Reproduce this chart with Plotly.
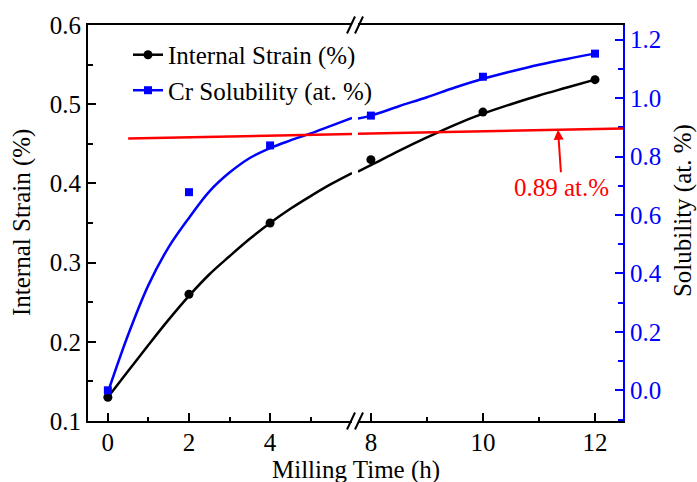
import plotly.graph_objects as go

# ---- data ----
time_left = [0, 2, 4]
time_right = [8, 10, 12]
strain_left = [0.13, 0.26, 0.35]
strain_right = [0.43, 0.49, 0.531]
sol_left = [0.0, 0.678, 0.838]
sol_right = [0.94, 1.073, 1.152]

# fitted curves
fit_t_left = [0, 0.5, 1, 1.5, 2, 2.5, 3, 3.5, 4, 4.5, 5, 5.5, 6.02]
strain_fit_left = [0.13, 0.163, 0.196, 0.228, 0.258, 0.285, 0.308, 0.33, 0.35, 0.368, 0.384, 0.399, 0.413]
sol_fit_left = [-0.007, 0.19, 0.36, 0.49, 0.59, 0.68, 0.745, 0.795, 0.829, 0.855, 0.879, 0.905, 0.932]
fit_t_right = [7.77, 8, 8.5, 9, 9.5, 10, 10.5, 11, 11.5, 12]
strain_fit_right = [0.415, 0.423, 0.441, 0.458, 0.474, 0.488, 0.5, 0.511, 0.521, 0.531]
sol_fit_right = [0.93, 0.94, 0.972, 1.003, 1.036, 1.066, 1.091, 1.114, 1.134, 1.152]

# solubility limit line
limit_t_left = [0.5, 6.02]
limit_left = [0.862, 0.877]
limit_t_right = [7.77, 12.5]
limit_right = [0.878, 0.896]
limit_label = "0.89 at.%"

x_ticks_left = [0, 2, 4]
x_minor_left = [1, 3, 5]
x_ticks_right = [8, 10, 12]
x_minor_right = [9, 11]
y_ticks = [0.1, 0.2, 0.3, 0.4, 0.5, 0.6]
y2_ticks = [0.0, 0.2, 0.4, 0.6, 0.8, 1.0, 1.2]

FONT = "Liberation Serif"
BLUE = "#0000ff"
RED = "#ff0000"

# layout geometry (pixels)
W, H = 697, 482
L, R, T, B = 88, 623, 23, 421
PW, PH = R - L, B - T
def px(x):
    return (x - L) / PW
def py(y):
    return (B - y) / PH

d1 = px(352)
d2 = px(358)

fig = go.Figure()

# fitted curves
fig.add_trace(go.Scatter(x=fit_t_left, y=strain_fit_left, mode="lines",
                         line=dict(color="black", width=2.5, shape="spline"),
                         xaxis="x", yaxis="y", showlegend=False))
fig.add_trace(go.Scatter(x=fit_t_right, y=strain_fit_right, mode="lines",
                         line=dict(color="black", width=2.5, shape="spline"),
                         xaxis="x2", yaxis="y", showlegend=False))
fig.add_trace(go.Scatter(x=fit_t_left, y=sol_fit_left, mode="lines",
                         line=dict(color=BLUE, width=2.5, shape="spline"),
                         xaxis="x", yaxis="y2", showlegend=False))
fig.add_trace(go.Scatter(x=fit_t_right, y=sol_fit_right, mode="lines",
                         line=dict(color=BLUE, width=2.5, shape="spline"),
                         xaxis="x2", yaxis="y2", showlegend=False))

# limit line
fig.add_trace(go.Scatter(x=limit_t_left, y=limit_left, mode="lines",
                         line=dict(color=RED, width=2.5),
                         xaxis="x", yaxis="y2", showlegend=False))
fig.add_trace(go.Scatter(x=limit_t_right, y=limit_right, mode="lines",
                         line=dict(color=RED, width=2.5),
                         xaxis="x2", yaxis="y2", showlegend=False))

# data points
fig.add_trace(go.Scatter(x=time_left, y=strain_left, mode="markers",
                         marker=dict(color="black", size=9, symbol="circle"),
                         xaxis="x", yaxis="y", showlegend=False))
fig.add_trace(go.Scatter(x=time_right, y=strain_right, mode="markers",
                         marker=dict(color="black", size=9, symbol="circle"),
                         xaxis="x2", yaxis="y", showlegend=False))
fig.add_trace(go.Scatter(x=time_left, y=sol_left, mode="markers",
                         marker=dict(color=BLUE, size=8, symbol="square"),
                         xaxis="x", yaxis="y2", showlegend=False))
fig.add_trace(go.Scatter(x=time_right, y=sol_right, mode="markers",
                         marker=dict(color=BLUE, size=8, symbol="square"),
                         xaxis="x2", yaxis="y2", showlegend=False))

# legend entries
fig.add_trace(go.Scatter(x=[None], y=[None], mode="lines+markers", name="Internal Strain (%)",
                         line=dict(color="black", width=2.5),
                         marker=dict(color="black", size=9, symbol="circle"),
                         xaxis="x", yaxis="y"))
fig.add_trace(go.Scatter(x=[None], y=[None], mode="lines+markers", name="Cr Solubility (at. %)",
                         line=dict(color=BLUE, width=2.5),
                         marker=dict(color=BLUE, size=8, symbol="square"),
                         xaxis="x", yaxis="y2"))

tick_common = dict(showgrid=False, zeroline=False, showline=True, linewidth=2,
                   ticks="inside", ticklen=8, tickwidth=2)

fig.update_layout(
    width=W, height=H,
    margin=dict(l=L, r=W - R, t=T, b=H - B, pad=0),
    paper_bgcolor="white", plot_bgcolor="white",
    font=dict(family=FONT, size=25, color="black"),
    xaxis=dict(domain=[0, d1], range=[-0.49, 6.02], anchor="y",
               tickmode="array", tickvals=x_ticks_left, linecolor="black", tickcolor="black",
               mirror=True, ticklabelstandoff=-2,
               minor=dict(tickmode="array", tickvals=x_minor_left, ticks="inside", ticklen=4,
                          tickwidth=2, tickcolor="black"),
               tickfont=dict(family=FONT, size=25, color="black"),
               **tick_common),
    xaxis2=dict(domain=[d2, 1], range=[7.77, 12.5], anchor="y",
                tickmode="array", tickvals=x_ticks_right, linecolor="black", tickcolor="black",
                mirror=True, ticklabelstandoff=-2,
                minor=dict(tickmode="array", tickvals=x_minor_right, ticks="inside", ticklen=4,
                           tickwidth=2, tickcolor="black"),
                tickfont=dict(family=FONT, size=25, color="black"),
                **tick_common),
    yaxis=dict(domain=[0, 1], range=[0.1, 0.6], anchor="x",
               tickmode="array", tickvals=y_ticks, ticktext=[f"{v:.1f}" for v in y_ticks],
               linecolor="black", tickcolor="black", mirror=False,
               minor=dict(dtick=0.05, tick0=0.05, ticks="inside", ticklen=5, tickwidth=2,
                          tickcolor="black"),
               tickfont=dict(family=FONT, size=25, color="black"),
               **tick_common),
    yaxis2=dict(range=[-0.105, 1.25], anchor="x2", overlaying="y", side="right",
                tickmode="array", tickvals=y2_ticks, ticktext=[f"{v:.1f}" for v in y2_ticks],
                linecolor=BLUE, tickcolor=BLUE, mirror=False,
                minor=dict(dtick=0.1, tick0=0.0, ticks="inside", ticklen=5, tickwidth=2,
                           tickcolor=BLUE),
                tickfont=dict(family=FONT, size=25, color=BLUE),
                **tick_common),
    legend=dict(x=px(128), y=py(30), xanchor="left", yanchor="top",
                bgcolor="rgba(0,0,0,0)", font=dict(family=FONT, size=25, color="black"),
                tracegroupgap=0, itemwidth=30),
    showlegend=True,
)

# axis titles
fig.add_annotation(text="Milling Time (h)", xref="paper", yref="paper",
                   x=0.5, y=py(470), xanchor="center", yanchor="middle",
                   showarrow=False, font=dict(family=FONT, size=25, color="black"))
fig.add_annotation(text="Internal Strain (%)", xref="paper", yref="paper",
                   x=px(22), y=0.5, xanchor="center", yanchor="middle", textangle=-90,
                   showarrow=False, font=dict(family=FONT, size=25, color="black"))
fig.add_annotation(text="Solubility (at. %)", xref="paper", yref="paper",
                   x=px(683), y=py(210), xanchor="center", yanchor="middle", textangle=-90,
                   showarrow=False, font=dict(family=FONT, size=25, color="black"))

# limit label with arrow
arrow_t = 11.34
arrow_y = limit_right[0] + (limit_right[1] - limit_right[0]) * (arrow_t - limit_t_right[0]) / (limit_t_right[1] - limit_t_right[0])
fig.add_annotation(text=limit_label, xref="x2", yref="y2", x=arrow_t, y=arrow_y,
                   axref="x2", ayref="y2", ax=11.41, ay=0.695,
                   showarrow=True, arrowhead=2, arrowsize=1, arrowwidth=2, arrowcolor=RED,
                   standoff=0, font=dict(family=FONT, size=25, color=RED))

# axis break marks
shapes = []
for cy in (T, B):
    for cx in (351, 359):
        shapes.append(dict(type="line", xref="paper", yref="paper",
                           x0=px(cx - 4), y0=py(cy + 8.5), x1=px(cx + 4), y1=py(cy - 8.5),
                           line=dict(color="black", width=2)))
fig.update_layout(shapes=shapes)

fig.write_html("out.html")
